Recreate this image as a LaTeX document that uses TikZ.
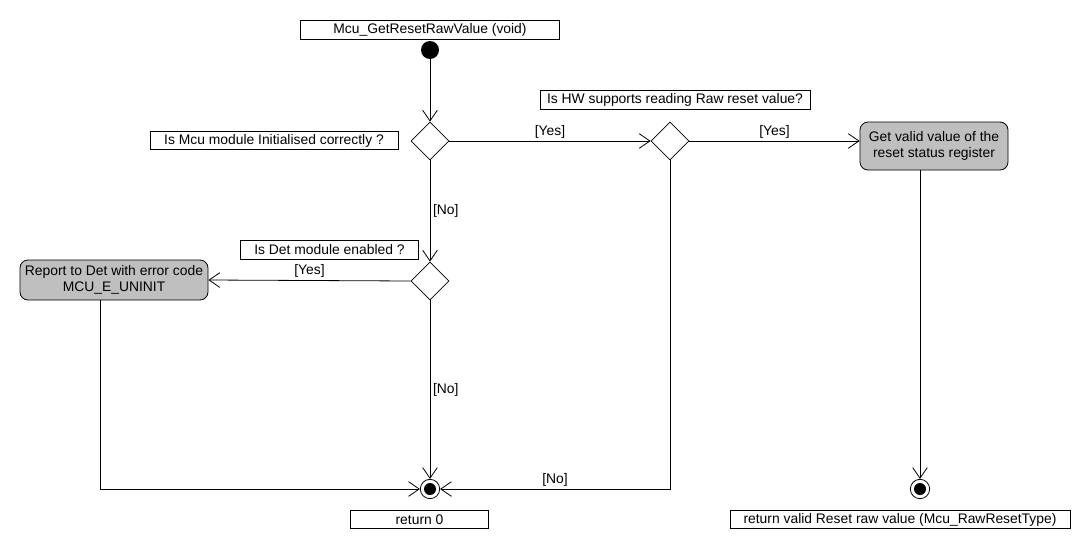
\documentclass[tikz,border=0pt]{standalone}
\usepackage{fontspec}
\setmainfont{Liberation Sans}
\usetikzlibrary{arrows.meta,shapes.geometric}

\tikzset{
    lbl/.style={draw,inner sep=1pt,minimum height=14pt,font=\fontsize{10.4}{12}\selectfont},
    act/.style={draw,fill=black!25,rounded corners=6pt,align=center,inner sep=1pt,font=\fontsize{10.4}{12}\selectfont},
    dec/.style={draw,diamond,minimum width=28.5pt,minimum height=28.5pt,inner sep=0pt},
    flow/.style={-{Straight Barb[length=8pt,width=11pt]}},
    grd/.style={font=\fontsize{10.4}{12}\selectfont,inner sep=2pt},
}

\begin{document}
\begin{tikzpicture}[x=0.75pt,y=-0.75pt,line width=0.6pt]
        \useasboundingbox (0,0) rectangle (1090,550);
        % header and start
        \node[lbl,minimum width=194pt](title) at (430,30){Mcu\_GetResetRawValue (void)};
        \node[circle,fill=black,minimum size=13.5pt,inner sep=0pt](start) at (430,50){};
        % decisions
        \node[dec](init) at (430,141){};
        \node[lbl,minimum width=186pt](initq) at (274,140.5){Is Mcu module Initialised correctly ?};
        \node[dec](hw) at (670,141){};
        \node[lbl,minimum width=202.5pt](hwq) at (675,100){Is HW supports reading Raw reset value?};
        \node[dec](det) at (430,281){};
        \node[lbl,minimum width=134pt](detq) at (329.5,250){Is Det module enabled ?};
        % actions
        \node[act,minimum width=111pt,minimum height=36pt](get) at (934,146){Get valid value of the\\reset status register};
        \node[act,minimum width=141pt,minimum height=30pt](report) at (114,280){Report to Det with error code\\MCU\_E\_UNINIT};
        % final nodes
        \node[circle,draw,minimum size=14.5pt,inner sep=0pt](fin1) at (430,489){};
        \fill (fin1) circle (4.5pt);
        \node[circle,draw,minimum size=14.5pt,inner sep=0pt](fin2) at (920,489){};
        \fill (fin2) circle (4.5pt);
        \node[lbl,minimum width=104pt](ret1) at (419.5,519.5){return 0};
        \node[lbl,minimum width=255pt](ret2) at (900,519.5){return valid Reset raw value (Mcu\_RawResetType)};
        \coordinate (repout) at (100,300);
        \coordinate (getout) at (920,170);
        % connectors
        \draw[flow](start)--(init.north);
        \draw[flow](init.east)--node[grd,above]{[Yes]}(hw.west);
        \draw[flow](hw.east)--node[grd,above]{[Yes]}(hw.east-|get.west);
        \draw[flow](getout)--(fin2.north);
        \draw[flow](init.south)--node[grd,right]{[No]}(det.north);
        \draw[flow](det.west)--node[grd,above]{[Yes]}(report.east);
        \draw[flow](det.south)--node[grd,right]{[No]}(fin1.north);
        \draw[flow](repout)|-(fin1.west);
        \draw[flow](hw.south)|-node[grd,above,pos=0.75]{[No]}(fin1.east);
    \end{tikzpicture}
\end{document}
